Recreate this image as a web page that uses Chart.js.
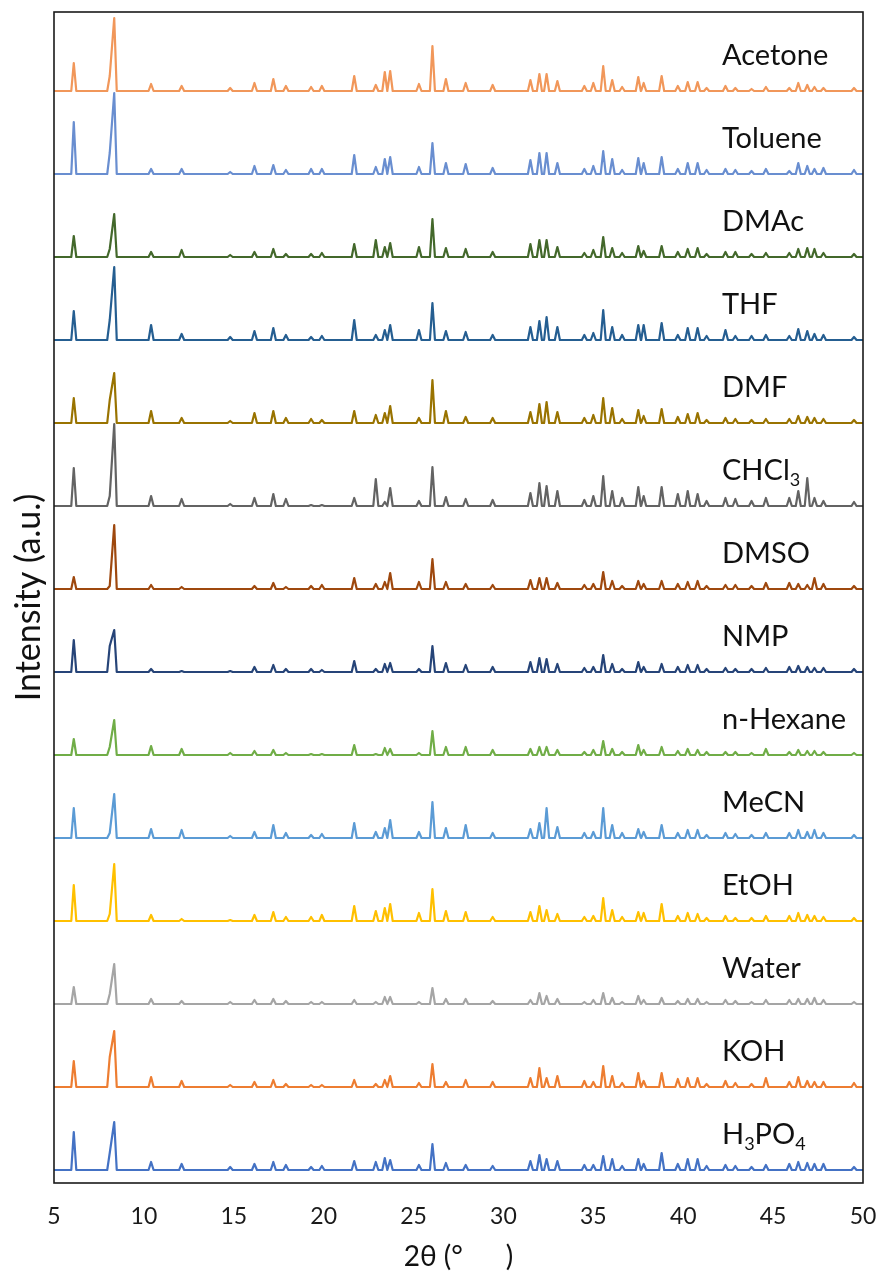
<!DOCTYPE html>
<html>
<head>
<meta charset="utf-8">
<script src="https://cdn.jsdelivr.net/npm/chart.js@4.4.1/dist/chart.umd.min.js"></script>
<style>
  html, body { margin: 0; padding: 0; background: #ffffff; }
  #wrap { width: 882px; height: 1276px; }
</style>
</head>
<body>
<div id="wrap"><canvas id="c" width="882" height="1276"></canvas></div>
<script>
// ---- Data ----
// Reflection positions, 2θ (degrees)
const twoTheta = [6.1, 8.1, 8.35, 10.4, 12.1, 14.8, 16.15, 17.2, 17.9, 19.3, 19.9, 21.7, 22.9, 23.4, 23.7, 25.3, 26.05, 26.8, 27.9,
  29.4, 31.5, 32.0, 32.4, 33.0, 34.5, 35.0, 35.55, 36.05, 36.6, 37.5, 37.8, 38.8, 39.7, 40.25, 40.8, 41.3, 42.35, 42.9, 43.8, 44.6, 45.9, 46.4, 46.9, 47.3, 47.8, 49.5];

// Peak intensities (a.u.) above each pattern's baseline, one per reflection
const acetone = [28,15,73,7,5,3,8,12,5,4,5,15,6,19,20,7,45,12,8, 6,11,17,17,10,5,8,25,11,4,14,8,15,5,9,9,3,5,3,2,4,3,8,6,4,3,3];
const toluene = [52,21,81,5,5,2,8,9,4,5,5,19,7,15,17,7,31,11,10, 6,14,21,21,11,5,8,23,15,4,16,11,17,5,11,11,4,5,4,3,5,3,11,8,5,6,4];
const dmac    = [21,8,43,5,7,2,5,8,3,3,4,13,17,10,14,10,38,9,8, 5,13,17,17,10,4,7,20,9,4,11,6,11,5,8,9,3,5,5,3,4,4,8,9,8,4,3];
const thf     = [29,20,73,15,6,3,9,12,5,3,4,20,5,10,15,10,37,9,8, 5,13,19,23,13,5,7,30,13,5,15,15,17,5,12,12,4,10,4,4,5,4,11,9,6,5,3];
const dmf     = [25,23,50,12,5,2,10,12,5,4,3,12,8,10,17,5,43,12,6, 5,11,19,21,11,5,8,25,15,4,13,7,14,6,9,10,3,5,4,3,4,4,7,6,5,4,3];
const chcl3   = [38,10,82,10,7,2,8,12,7,1,1,8,27,4,18,5,39,9,7, 6,13,23,20,15,6,10,30,15,8,19,10,19,12,15,12,5,8,7,5,8,8,15,28,8,5,4];
const dmso    = [12,3,64,4,2,0,3,6,2,3,4,11,5,7,16,7,30,7,5, 4,9,11,11,6,4,5,17,8,3,8,5,8,5,7,8,3,4,4,3,6,6,5,4,11,5,3];
const nmp     = [32,26,42,3,1,1,5,7,3,3,2,11,3,8,9,3,26,9,7, 5,10,14,13,8,4,5,17,8,3,10,5,8,5,7,7,3,4,3,3,4,5,6,5,4,4,3];
const hexane  = [16,8,35,9,6,2,4,5,2,1,1,10,1,7,6,2,24,8,8, 5,6,8,8,5,3,5,14,6,3,10,5,8,4,6,5,3,3,3,2,6,3,5,4,4,3,2];
const mecn    = [30,5,44,9,8,2,6,13,5,3,4,15,6,10,18,6,36,10,13, 5,9,15,30,11,5,6,30,13,5,9,6,13,5,8,8,3,5,4,3,5,5,8,6,8,5,3];
const etoh    = [36,7,57,6,2,1,6,9,4,4,6,15,10,13,17,8,32,10,9, 4,9,15,11,7,4,5,23,11,4,9,8,17,5,8,7,3,5,3,3,5,5,8,6,5,4,3];
const water   = [17,10,40,5,3,2,4,5,3,2,2,4,2,7,7,2,16,5,5, 3,4,11,8,5,2,4,11,6,2,8,4,6,3,5,5,2,4,3,2,4,4,5,5,6,4,2];
const koh     = [26,30,56,10,6,2,5,7,3,2,2,7,3,7,11,4,23,5,7, 5,9,19,9,11,6,5,21,11,4,14,6,14,8,9,9,3,6,4,3,9,5,10,6,5,5,4];
const h3po4   = [38,17,48,8,6,3,6,8,5,3,4,9,8,12,10,5,26,7,5, 4,9,15,11,9,5,5,14,11,4,11,6,17,6,11,11,4,5,4,3,5,6,8,7,6,6,3];

// Series names (top to bottom), their stacking offsets and colours
const names   = ["Acetone", "Toluene", "DMAc", "THF", "DMF", "CHCl3", "DMSO", "NMP", "n-Hexane", "MeCN", "EtOH", "Water", "KOH", "H3PO4"];
const series  = [acetone, toluene, dmac, thf, dmf, chcl3, dmso, nmp, hexane, mecn, etoh, water, koh, h3po4];
const offsets = [1079, 996, 913, 830, 747, 664, 581, 498, 415, 332, 249, 166, 83, 0];
const colors  = ["#F1975A", "#698ED0", "#43682B", "#255E91", "#997300", "#636363", "#9E480E", "#264478", "#70AD47", "#5B9BD5", "#FFC000", "#A5A5A5", "#ED7D31", "#4472C4"];

// x-axis tick labels
const xTicks = [5, 10, 15, 20, 25, 30, 35, 40, 45, 50];
const xMin = 5, xMax = 50;

// ---- Line vertices: baseline, each reflection drawn as a narrow peak ----
const HALF = 0.14;
function buildPoints(vals, off) {
  const pts = [{x: xMin, y: off}];
  const idx = twoTheta.map((p, k) => k).filter(k => vals[k] > 0);
  idx.forEach((k, j) => {
    const p = twoTheta[k];
    const prev = j > 0 ? twoTheta[idx[j - 1]] : -Infinity;
    const next = j < idx.length - 1 ? twoTheta[idx[j + 1]] : Infinity;
    // overlapping neighbours share a flank (no return to baseline between them)
    if (p - prev >= 2 * HALF) pts.push({x: p - HALF, y: off});
    pts.push({x: p, y: off + vals[k]});
    if (next - p >= 2 * HALF) pts.push({x: p + HALF, y: off});
  });
  pts.push({x: xMax, y: off});
  return pts;
}

const datasets = series.map((vals, i) => ({
  label: names[i],
  data: buildPoints(vals, offsets[i]),
  borderColor: colors[i],
  backgroundColor: colors[i],
  borderWidth: 2.2,
  borderJoinStyle: 'round',
  pointRadius: 0,
  tension: 0,
  fill: false
})).reverse();

const FONT = "Lato, 'Open Sans', sans-serif";

// Frame around the plot area
const framePlugin = {
  id: 'frame',
  afterDatasetsDraw(chart) {
    const {ctx, chartArea: a} = chart;
    ctx.save();
    ctx.strokeStyle = '#1a1a1a';
    ctx.lineWidth = 1.6;
    ctx.strokeRect(a.left, a.top, a.right - a.left, a.bottom - a.top);
    ctx.restore();
  }
};

// Series names beside each pattern (digits drawn as subscripts)
const labelPlugin = {
  id: 'seriesLabels',
  afterDatasetsDraw(chart) {
    const {ctx} = chart;
    const yS = chart.scales.y;
    ctx.save();
    ctx.fillStyle = '#111111';
    ctx.textBaseline = 'alphabetic';
    ctx.textAlign = 'left';
    names.forEach((name, i) => {
      let x = 722;
      const y = yS.getPixelForValue(offsets[i]) - 26;
      const parts = name.match(/\d+|\D+/g);
      parts.forEach(part => {
        const isSub = /^\d+$/.test(part);
        ctx.font = (isSub ? '18px ' : '29px ') + FONT;
        ctx.fillText(part, x, isSub ? y + 6 : y);
        x += ctx.measureText(part).width;
      });
    });
    ctx.restore();
  }
};

new Chart(document.getElementById('c'), {
  type: 'line',
  data: { datasets },
  options: {
    responsive: false,
    animation: false,
    devicePixelRatio: 1,
    layout: { padding: { top: 12, right: 19, left: 0, bottom: 0 } },
    plugins: { legend: { display: false }, tooltip: { enabled: false } },
    scales: {
      x: {
        type: 'linear',
        min: xMin, max: xMax,
        afterFit(scale) { scale.height = 93; scale.paddingLeft = 0; scale.paddingRight = 0; },
        afterBuildTicks(scale) { scale.ticks = xTicks.map(v => ({value: v})); },
        grid: { display: false, drawTicks: false },
        border: { display: false },
        ticks: { color: '#1a1a1a', font: { family: FONT, size: 23 }, padding: 20, maxRotation: 0 },
        title: { display: true, text: '2θ (°      )', color: '#111111', font: { family: FONT, size: 28 }, padding: { top: 0, bottom: 2 } }
      },
      y: {
        type: 'linear',
        min: -13, max: 1158,
        afterFit(scale) { scale.width = 54; scale.paddingTop = 0; scale.paddingBottom = 0; },
        grid: { display: false, drawTicks: false },
        border: { display: false },
        ticks: { display: false },
        title: { display: true, text: 'Intensity (a.u.)', color: '#111111', font: { family: FONT, size: 34 }, padding: { top: 9, bottom: 0 } }
      }
    }
  },
  plugins: [framePlugin, labelPlugin]
});
</script>
</body>
</html>
